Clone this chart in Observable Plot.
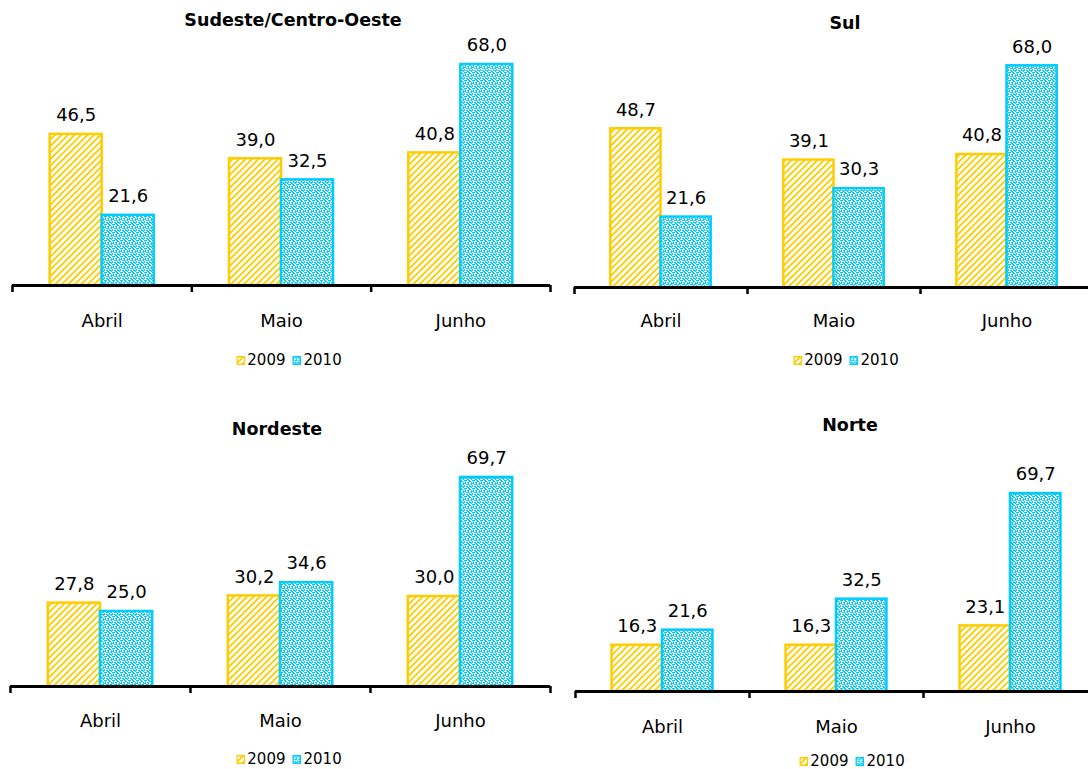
<!DOCTYPE html>
<html>
<head>
<meta charset="utf-8">
<script src="https://cdn.jsdelivr.net/npm/d3@7"></script>
<script src="https://cdn.jsdelivr.net/npm/@observablehq/plot@0.6"></script>
<style>
  html, body { margin: 0; padding: 0; background: #fff; overflow: hidden; }
  #page { position: relative; width: 1088px; height: 769px; overflow: hidden; background: #fff;
          font-family: "DejaVu Sans", sans-serif; color: #000; }
  .panel-svg { position: absolute; }
  .titulo { position: absolute; transform: translate(-50%, -50%); font-weight: bold;
            font-size: 17.5px; line-height: 20px; white-space: nowrap; }
  .legenda { position: absolute; transform: translate(-50%, -50%); display: flex;
             align-items: center; font-size: 15px; line-height: 14px; white-space: nowrap; }
  .legenda .item { display: flex; align-items: center; margin-right: 7px; }
  .legenda .item:last-child { margin-right: 0; }
  .legenda svg { margin-right: 2px; display: block; }
</style>
</head>
<body>
<svg width="0" height="0" style="position:absolute">
  <defs>
    <!-- diagonal gold hatch for 2009 -->
    <pattern id="hachura2009" width="4.6" height="4.6" patternUnits="userSpaceOnUse" patternTransform="rotate(45)">
      <rect width="4.6" height="4.6" fill="#fff"></rect>
      <rect x="0" y="0" width="1.8" height="4.6" fill="#FFCC00"></rect>
    </pattern>
    <!-- cyan speckle for 2010 -->
    <pattern id="pontos2010" width="8" height="8" patternUnits="userSpaceOnUse">
      <rect width="8" height="8" fill="#fff"></rect>
      <g fill="#00CCFF">
        <rect x="0" y="0" width="3" height="1"></rect>
        <rect x="4" y="0" width="2" height="1"></rect>
        <rect x="1" y="1" width="1" height="2"></rect>
        <rect x="5" y="1" width="2" height="1"></rect>
        <rect x="3" y="2" width="2" height="1"></rect>
        <rect x="7" y="2" width="1" height="2"></rect>
        <rect x="0" y="3" width="2" height="1"></rect>
        <rect x="4" y="3" width="1" height="2"></rect>
        <rect x="2" y="4" width="2" height="1"></rect>
        <rect x="6" y="4" width="2" height="1"></rect>
        <rect x="0" y="5" width="1" height="2"></rect>
        <rect x="5" y="5" width="1" height="2"></rect>
        <rect x="2" y="6" width="2" height="1"></rect>
        <rect x="6" y="6" width="2" height="1"></rect>
        <rect x="3" y="7" width="2" height="1"></rect>
        <rect x="7" y="7" width="1" height="1"></rect>
      </g>
    </pattern>
  </defs>
</svg>
<div id="page"></div>
<script>
// Categories and series
const meses = ["Abril", "Maio", "Junho"];
const anos = ["2009", "2010"];
const regioes = ["Sudeste/Centro-Oeste", "Sul", "Nordeste", "Norte"];

const sudesteCO2009 = [46.5, 39.0, 40.8];
const sudesteCO2010 = [21.6, 32.5, 68.0];
const sul2009 = [48.7, 39.1, 40.8];
const sul2010 = [21.6, 30.3, 68.0];
const nordeste2009 = [27.8, 30.2, 30.0];
const nordeste2010 = [25.0, 34.6, 69.7];
const norte2009 = [16.3, 16.3, 23.1];
const norte2010 = [21.6, 32.5, 69.7];

const series = [
  [sudesteCO2009, sudesteCO2010],
  [sul2009, sul2010],
  [nordeste2009, nordeste2010],
  [norte2009, norte2010]
];

// Appearance of each year
const estilo = {
  "2009": { fill: "url(#hachura2009)", stroke: "#FFCC00", slot: [0.21, 0.5] },
  "2010": { fill: "url(#pontos2010)", stroke: "#00CCFF", slot: [0.5, 0.79] }
};

// Panel placement on the page
const layout = [
  { left: 0,   top: 0,   width: 560, mL: 12, mR: 10, base: 285, k: 3.25, titleX: 293, titleY: 20,  legX: 289, legY: 360, labDy: 36 },
  { left: 560, top: 0,   width: 540, mL: 14, mR: 7,  base: 287, k: 3.26, titleX: 845, titleY: 23,  legX: 846, legY: 360, labDy: 34 },
  { left: 0,   top: 400, width: 560, mL: 10, mR: 10, base: 286, k: 3.0,  titleX: 277, titleY: 429, legX: 289, legY: 759, labDy: 35 },
  { left: 560, top: 400, width: 540, mL: 15, mR: 3,  base: 291, k: 2.84, titleX: 850, titleY: 425, legX: 852, legY: 761, labDy: 36 }
];

const yMax = 80;
const svgHeight = 340;
const fmt = v => d3.format(".1f")(v).replace(".", ",");
const page = document.getElementById("page");

regioes.forEach((regiao, p) => {
  const L = layout[p];
  const rows = [];
  anos.forEach((ano, a) => {
    series[p][a].forEach((valor, i) => rows.push({ mes: meses[i], i, ano, valor }));
  });

  const barras = anos.map(ano => Plot.rect(rows.filter(d => d.ano === ano), {
    x1: d => d.i + estilo[ano].slot[0],
    x2: d => d.i + estilo[ano].slot[1],
    y1: 0,
    y2: "valor",
    fill: estilo[ano].fill,
    stroke: estilo[ano].stroke,
    strokeWidth: 2.5
  }));

  const chart = Plot.plot({
    width: L.width,
    height: svgHeight,
    marginLeft: L.mL,
    marginRight: L.mR,
    marginBottom: svgHeight - L.base,
    marginTop: L.base - yMax * L.k,
    style: { fontFamily: "DejaVu Sans, sans-serif", color: "#000", background: "transparent", overflow: "visible" },
    x: { type: "linear", domain: [0, meses.length], axis: null },
    y: { domain: [0, yMax], axis: null },
    marks: [
      ...barras,
      Plot.text(rows, {
        x: d => d.i + (estilo[d.ano].slot[0] + estilo[d.ano].slot[1]) / 2,
        y: "valor",
        text: d => fmt(d.valor),
        dy: -19,
        fontSize: 18,
        fill: "#000",
        style: "letter-spacing:1.6px"
      }),
      Plot.ruleY([0], { stroke: "#000", strokeWidth: 3 }),
      Plot.axisX({ ticks: d3.range(meses.length + 1), tickSize: 7, tickFormat: () => "", stroke: "#000", strokeWidth: 2.5 }),
      Plot.text(meses, {
        x: (d, i) => i + 0.5,
        y: () => 0,
        text: d => d,
        dy: L.labDy,
        fontSize: 18,
        fill: "#000"
      })
    ]
  });
  chart.classList.add("panel-svg");
  chart.style.left = L.left + "px";
  chart.style.top = L.top + "px";
  page.appendChild(chart);

  const t = document.createElement("div");
  t.className = "titulo";
  t.textContent = regiao;
  t.style.left = L.titleX + "px";
  t.style.top = L.titleY + "px";
  page.appendChild(t);

  const leg = document.createElement("div");
  leg.className = "legenda";
  leg.style.left = L.legX + "px";
  leg.style.top = L.legY + "px";
  anos.forEach(ano => {
    const item = document.createElement("div");
    item.className = "item";
    item.innerHTML = `<svg width="9" height="9"><rect x="0.75" y="0.75" width="7.5" height="7.5" fill="${estilo[ano].fill}" stroke="${estilo[ano].stroke}" stroke-width="1.5"></rect></svg><span>${ano}</span>`;
    leg.appendChild(item);
  });
  page.appendChild(leg);
});
</script>
</body>
</html>
